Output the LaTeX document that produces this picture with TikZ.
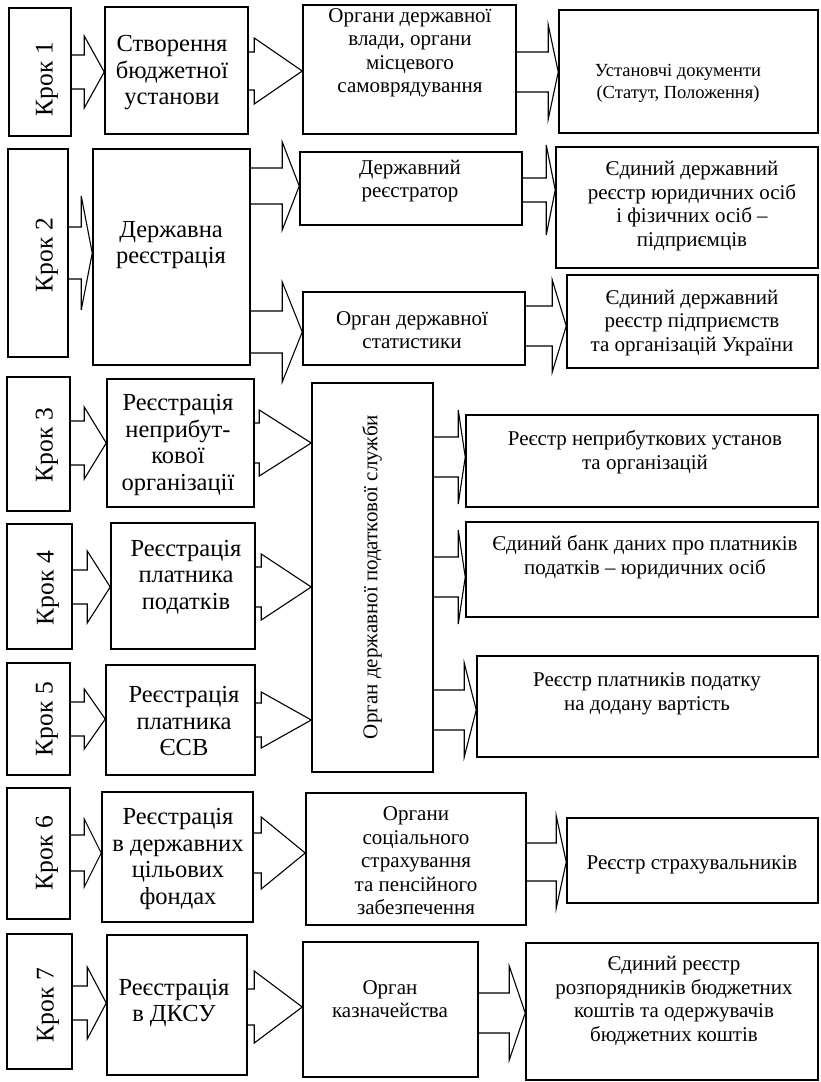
\documentclass[tikz,border=0pt]{standalone}
\usepackage{fontspec}
\setmainfont{Liberation Serif}
\usetikzlibrary{calc,fit,backgrounds}

\tikzset{
  box/.style={draw, line width=1.5pt, fill=white, inner sep=0pt},
  barrow/.style={draw, line width=1.1pt, fill=white},
  steptext/.style={rotate=90, font=\fontsize{25.5}{28}\selectfont},
  bigtext/.style={align=center, font=\fontsize{24.5}{26.5}\selectfont},
  smalltext/.style={align=center, font=\fontsize{21}{23.5}\selectfont},
}

% block arrow: from, to, tip y, shaft half, head half, head length
\newcommand{\blockarrow}[6]{%
  \draw[barrow] let \p1=(#1.east), \p2=(#2.west |- 0,#3) in
    (\x1-4pt,\y2+#4pt) -- (\x2-#6pt,\y2+#4pt) -- (\x2-#6pt,\y2+#5pt) -- (\x2,\y2)
    -- (\x2-#6pt,\y2-#5pt) -- (\x2-#6pt,\y2-#4pt) -- (\x1-4pt,\y2-#4pt) -- cycle;}

\begin{document}
\begin{tikzpicture}[x=1pt, y=-1pt]
  \useasboundingbox (0,0) rectangle (820,1082);

  % Step 1
  \node[box, fit={(9,8) (71,136)}] (k1) {};
  \node[box, fit={(105,7) (248,134)}] (b1) {};
  \node[box, fit={(303,5) (516,134)}] (c1) {};
  \node[box, fit={(559,10) (818,133)}] (d1) {};
  \node[steptext] (k1t) at (47,79) {Крок 1};
  \node[bigtext] (b1t) at (172,73) {Створення\\бюджетної\\установи};
  \node[smalltext] (c1t) at (410,53) {Органи державної\\влади, органи\\місцевого\\самоврядування};
  \node[smalltext, font=\fontsize{18.5}{22}\selectfont] (d1t) at (678,83) {Установчі документи\\(Статут, Положення)};

  % Step 2
  \node[box, fit={(8,149) (68,357)}] (k2) {};
  \node[box, fit={(93,149) (250,365)}] (b2) {};
  \node[box, fit={(300,152) (522,225)}] (c2a) {};
  \node[box, fit={(556,147) (818,268)}] (d2a) {};
  \node[box, fit={(303,292) (525,365)}] (c2b) {};
  \node[box, fit={(567,275) (818,368)}] (d2b) {};
  \node[steptext] (k2t) at (47,255) {Крок 2};
  \node[bigtext] (b2t) at (171,245) {Державна\\реєстрація};
  \node[smalltext] (c2at) at (410,181) {Державний\\реєстратор};
  \node[smalltext] (d2at) at (692,206) {Єдиний державний\\реєстр юридичних осіб\\і фізичних осіб –\\підприємців};
  \node[smalltext] (c2bt) at (412,330) {Орган державної\\статистики};
  \node[smalltext] (d2bt) at (692,323) {Єдиний державний\\реєстр підприємств\\та організацій України};

  % Steps 3-5 and the tax office
  \node[box, fit={(312,383) (433,772)}] (tax) {};
  \node[smalltext, rotate=90] (taxt) at (372,577) {Орган державної податкової служби};

  \node[box, fit={(7,377) (70,511)}] (k3) {};
  \node[box, fit={(107,379) (254,507)}] (b3) {};
  \node[box, fit={(466,415) (818,507)}] (d3) {};
  \node[steptext] (k3t) at (47,445) {Крок 3};
  \node[bigtext] (b3t) at (178,445) {Реєстрація\\неприбут-\\кової\\організації};
  \node[smalltext] (d3t) at (645,452) {Реєстр неприбуткових установ\\та організацій};

  \node[box, fit={(7,524) (72,649)}] (k4) {};
  \node[box, fit={(111,523) (255,649)}] (b4) {};
  \node[box, fit={(466,522) (818,617)}] (d4) {};
  \node[steptext] (k4t) at (48,588) {Крок 4};
  \node[bigtext] (b4t) at (186,577) {Реєстрація\\платника\\податків};
  \node[smalltext] (d4t) at (645,557) {Єдиний банк даних про платників\\податків – юридичних осіб};

  \node[box, fit={(7,663) (70,775)}] (k5) {};
  \node[box, fit={(106,665) (255,775)}] (b5) {};
  \node[box, fit={(477,656) (818,757)}] (d5) {};
  \node[steptext] (k5t) at (47,719) {Крок 5};
  \node[bigtext] (b5t) at (184,721) {Реєстрація\\платника\\ЄСВ};
  \node[smalltext] (d5t) at (647,694) {Реєстр платників податку\\на додану вартість};

  % Step 6
  \node[box, fit={(7,788) (70,919)}] (k6) {};
  \node[box, fit={(102,792) (253,922)}] (b6) {};
  \node[box, fit={(306,793) (526,925)}] (c6) {};
  \node[box, fit={(567,818) (818,903)}] (d6) {};
  \node[steptext] (k6t) at (47,853) {Крок 6};
  \node[bigtext] (b6t) at (178,859) {Реєстрація\\в державних\\цільових\\фондах};
  \node[smalltext] (c6t) at (416,861) {Органи\\соціального\\страхування\\та пенсійного\\забезпечення};
  \node[smalltext] (d6t) at (692,865) {Реєстр страхувальників};

  % Step 7
  \node[box, fit={(7,934) (72,1069)}] (k7) {};
  \node[box, fit={(107,935) (247,1075)}] (b7) {};
  \node[box, fit={(303,942) (478,1077)}] (c7) {};
  \node[box, fit={(526,943) (818,1080)}] (d7) {};
  \node[steptext] (k7t) at (48,1005) {Крок 7};
  \node[bigtext] (b7t) at (174,1003) {Реєстрація\\в ДКСУ};
  \node[smalltext] (c7t) at (390,999) {Орган\\казначейства};
  \node[smalltext] (d7t) at (674,1001) {Єдиний реєстр\\розпорядників бюджетних\\коштів та одержувачів\\бюджетних коштів};

  % Draw the block arrows behind the boxes
  \begin{scope}[on background layer]
    \blockarrow{k1}{b1}{72}{17}{36}{20}
    \blockarrow{b1}{c1}{71}{19}{33}{48}
    \blockarrow{c1}{d1}{72}{20}{47}{10}
    \blockarrow{k2}{b2}{253}{26}{57}{11}
    \blockarrow{b2}{c2a}{186}{18}{44}{17}
    \blockarrow{b2}{c2b}{332}{21}{50}{20}
    \blockarrow{c2a}{d2a}{190}{12}{45}{9}
    \blockarrow{c2b}{d2b}{326}{20}{46}{14}
    \blockarrow{k3}{b3}{443}{22}{36}{22}
    \blockarrow{b3}{tax}{443}{20}{33}{52}
    \blockarrow{tax}{d3}{457}{20}{47}{7}
    \blockarrow{k4}{b4}{587}{17}{36}{23}
    \blockarrow{b4}{tax}{587}{20}{33}{50}
    \blockarrow{tax}{d4}{577}{20}{47}{7}
    \blockarrow{k5}{b5}{719}{17}{30}{21}
    \blockarrow{b5}{tax}{720}{17}{28}{50}
    \blockarrow{tax}{d5}{710}{20}{47}{12}
    \blockarrow{k6}{b6}{853}{18}{34}{17}
    \blockarrow{b6}{c6}{853}{20}{36}{44}
    \blockarrow{c6}{d6}{862}{19}{46}{10}
    \blockarrow{k7}{b7}{1003}{17}{36}{19}
    \blockarrow{b7}{c7}{1007}{18}{36}{48}
    \blockarrow{c7}{d7}{1013}{20}{47}{16}
  \end{scope}
\end{tikzpicture}
\end{document}
